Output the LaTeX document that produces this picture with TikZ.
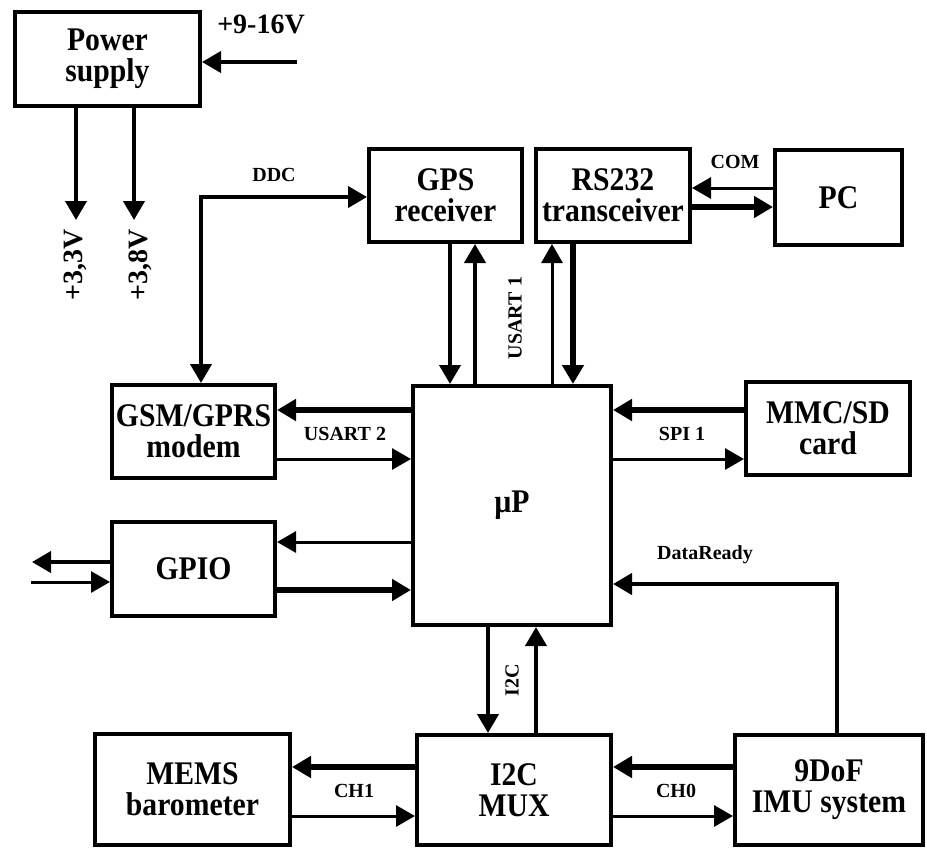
\documentclass[tikz,border=0pt]{standalone}
\usepackage{fontspec}
\setmainfont{Liberation Serif}
\newfontfamily\boxfont{Liberation Serif}[FakeStretch=0.9]
\usetikzlibrary{arrows.meta,positioning}
\tikzset{
  box/.style={draw, line width=4pt, inner sep=0pt, align=center,
    font=\boxfont\bfseries\fontsize{33}{31}\selectfont},
  lbl/.style={inner sep=0pt, font=\bfseries\fontsize{20}{22}\selectfont},
  pwl/.style={inner sep=0pt, font=\bfseries\fontsize{28}{30}\selectfont},
  tip/.style={-{Triangle[length=19pt,width=21pt]}},
  wire/.style={tip, line width=3pt},
  med/.style={tip, line width=4pt},
  bus/.style={tip, line width=5.5pt},
}

\begin{document}
\begin{tikzpicture}[x=1pt,y=-1pt]
    \useasboundingbox (0,0) rectangle (927,852);

    % ----- Blocks
    \node[box, minimum width=185pt, minimum height=94pt] (pwr) at (107.5,59) {Power\\supply};
    \node[box, minimum width=153pt, minimum height=93pt] (gps) at (445.5,195.5) {GPS\\receiver};
    \node[box, minimum width=154pt, minimum height=93pt] (rs) at (613,195.5) {RS232\\transceiver};
    \node[box, minimum width=127pt, minimum height=95pt] (pc) at (838.5,197.5) {PC};
    \node[box, minimum width=163pt, minimum height=93pt] (gsm) at (193.5,431.5) {GSM/GPRS\\modem};
    \node[box, minimum width=198pt, minimum height=239pt] (mcu) at (512,505.5) {µP};
    \node[box, minimum width=164pt, minimum height=93pt] (mmc) at (828,428.5) {MMC/SD\\card};
    \node[box, minimum width=163pt, minimum height=94pt] (gpio) at (193.5,569) {GPIO};
    \node[box, minimum width=195pt, minimum height=111pt] (mems) at (192.5,789.5) {MEMS\\barometer};
    \node[box, minimum width=194pt, minimum height=110pt] (mux) at (514,790) {I2C\\MUX};
    \node[box, minimum width=188pt, minimum height=110pt] (imu) at (829,790) {9DoF\\IMU system};

    % ----- Power
    \coordinate (vin) at (297,62);
    \coordinate (o33) at (76,220);
    \coordinate (o38) at (134,220);
    \draw[med] (vin) -- (pwr.east |- vin);
    \draw[med] (pwr.south -| o33) -- (o33);
    \draw[med] (pwr.south -| o38) -- (o38);
    \node[pwl] (vinl) at (261,24) {+9-16V};
    \node[pwl, rotate=90] (l33) at (75,265) {+3,3V};
    \node[pwl, rotate=90] (l38) at (140,265) {+3,8V};

    % ----- DDC
    \draw[med, {Triangle[length=19pt,width=21pt]}-{Triangle[length=19pt,width=21pt]}]
        (gsm.north -| 201,0) |- (gps.west |- 0,197);
    \node[lbl] (ddc) at (274,175) {DDC};

    % ----- USART 1
    \draw[med] (gps.south -| 450,0) -- (mcu.north -| 450,0);
    \draw[med] (mcu.north -| 475,0) -- (gps.south -| 475,0);
    \draw[wire] (mcu.north -| 552,0) -- (rs.south -| 552,0);
    \draw[bus] (rs.south -| 573,0) -- (mcu.north -| 573,0);
    \node[lbl, rotate=90] (usart1) at (515,318) {USART 1};

    % ----- COM
    \draw[wire] (pc.west |- 0,188) -- (rs.east |- 0,188);
    \draw[bus] (rs.east |- 0,207) -- (pc.west |- 0,207);
    \node[lbl] (com) at (735,162) {COM};

    % ----- USART 2
    \draw[bus] (mcu.west |- 0,410) -- (gsm.east |- 0,410);
    \draw[wire] (gsm.east |- 0,459) -- (mcu.west |- 0,459);
    \node[lbl] (usart2) at (345,434) {USART 2};

    % ----- SPI 1
    \draw[bus] (mmc.west |- 0,410) -- (mcu.east |- 0,410);
    \draw[wire] (mcu.east |- 0,459) -- (mmc.west |- 0,459);
    \node[lbl] (spi) at (682,434) {SPI 1};

    % ----- GPIO
    \coordinate (gout) at (32,562);
    \coordinate (gin) at (31,582);
    \draw[wire] (mcu.west |- 0,542) -- (gpio.east |- 0,542);
    \draw[bus] (gpio.east |- 0,590) -- (mcu.west |- 0,590);
    \draw[med] (gpio.west |- gout) -- (gout);
    \draw[wire] (gin) -- (gpio.west |- gin);

    % ----- DataReady
    \draw[med] (imu.north -| 837,0) |- (mcu.east |- 0,584);
    \node[lbl] (drdy) at (705,555) {DataReady};

    % ----- I2C
    \draw[med] (mcu.south -| 488,0) -- (mux.north -| 488,0);
    \draw[med] (mux.north -| 536,0) -- (mcu.south -| 536,0);
    \node[lbl, rotate=90] (i2c) at (512,680) {I2C};

    % ----- CH1 / CH0
    \draw[bus] (mux.west |- 0,767) -- (mems.east |- 0,767);
    \draw[wire] (mems.east |- 0,816) -- (mux.west |- 0,816);
    \node[lbl] (ch1) at (354,791) {CH1};
    \draw[bus] (imu.west |- 0,767) -- (mux.east |- 0,767);
    \draw[wire] (mux.east |- 0,816) -- (imu.west |- 0,816);
    \node[lbl] (ch0) at (676,791) {CH0};
\end{tikzpicture}
\end{document}
